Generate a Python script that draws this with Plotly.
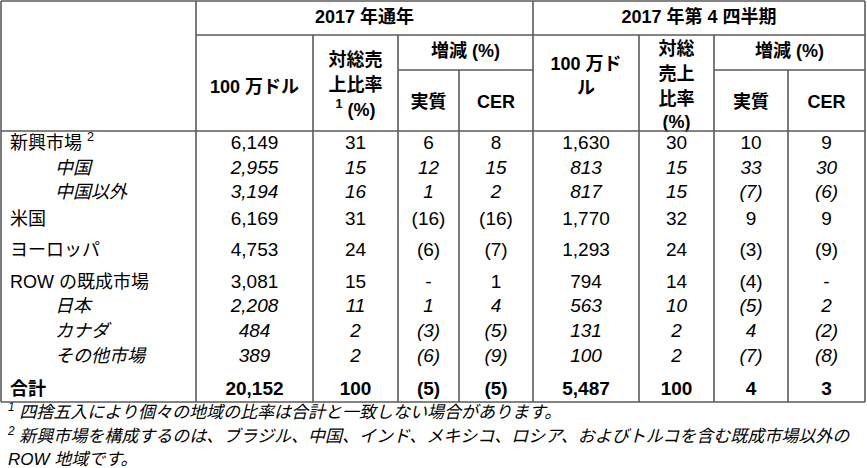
import plotly.graph_objects as go

# row labels and values
regions = ["新興市場 <sup>2</sup>", "中国", "中国以外", "米国", "ヨーロッパ",
           "ROW の既成市場", "日本", "カナダ", "その他市場", "合計"]
row_kind = ["main", "sub", "sub", "main", "main", "main", "sub", "sub", "sub", "total"]

fy_sales = ["6,149", "2,955", "3,194", "6,169", "4,753", "3,081", "2,208", "484", "389", "20,152"]
fy_share = ["31", "15", "16", "31", "24", "15", "11", "2", "2", "100"]
fy_actual = ["6", "12", "1", "(16)", "(6)", "-", "1", "(3)", "(6)", "(5)"]
fy_cer = ["8", "15", "2", "(16)", "(7)", "1", "4", "(5)", "(9)", "(5)"]

q4_sales = ["1,630", "813", "817", "1,770", "1,293", "794", "563", "131", "100", "5,487"]
q4_share = ["30", "15", "15", "32", "24", "14", "10", "2", "2", "100"]
q4_actual = ["10", "33", "(7)", "9", "(3)", "(4)", "(5)", "4", "(7)", "4"]
q4_cer = ["9", "30", "(6)", "9", "(9)", "-", "2", "(2)", "(8)", "3"]

footnotes = ["<sup>1</sup> 四捨五入により個々の地域の比率は合計と一致しない場合があります。",
             "<sup>2</sup> 新興市場を構成するのは、ブラジル、中国、インド、メキシコ、ロシア、およびトルコを含む既成市場以外の",
             "ROW 地域です。"]

# layout of the grid (pixels)
W, H = 867, 468
col_edges = [1, 196, 313, 398, 459, 533, 639, 714, 788, 865]
row_y = [144, 169, 193, 220, 251, 283, 307, 332, 357, 390]
foot_y = [414, 438, 461]
top, h1, h2, h3, bottom = 1, 35, 70, 131, 402

LINE = '#5a5a5a'
FONT = "Arial, 'Liberation Sans', 'Noto Sans CJK JP', sans-serif"

xs, ys, texts, pos, sizes = [], [], [], [], []


def put(x, y, t, p='middle center', s=18):
    xs.append(x)
    ys.append(y)
    texts.append(t)
    pos.append(p)
    sizes.append(s)


def centre(i):
    return (col_edges[i] + col_edges[i + 1]) / 2


# header
put((col_edges[1] + col_edges[5]) / 2, 18, "<b>2017 年通年</b>")
put((col_edges[5] + col_edges[9]) / 2, 18, "<b>2017 年第 4 四半期</b>")
put(centre(1), 88, "<b>100 万ドル</b>")
for y, t in zip([61, 86, 111], ["対総売", "上比率", "<sup>1</sup> (%)"]):
    put(centre(2), y, "<b>" + t + "</b>")
put((col_edges[3] + col_edges[5]) / 2, 52, "<b>増減 (%)</b>")
put(centre(3), 103, "<b>実質</b>")
put(centre(4), 103, "<b>CER</b>")
for y, t in zip([65, 89], ["100 万ド", "ル"]):
    put(centre(5), y, "<b>" + t + "</b>")
for y, t in zip([50, 75, 100, 123], ["対総", "売上", "比率", "(%)"]):
    put(centre(6), y, "<b>" + t + "</b>")
put((col_edges[7] + col_edges[9]) / 2, 52, "<b>増減 (%)</b>")
put(centre(7), 103, "<b>実質</b>")
put(centre(8), 103, "<b>CER</b>")

# body
columns = [fy_sales, fy_share, fy_actual, fy_cer, q4_sales, q4_share, q4_actual, q4_cer]
for r, (label, kind) in enumerate(zip(regions, row_kind)):
    y = row_y[r]
    if kind == 'sub':
        put(55, y, "<i>" + label + "</i>", 'middle right')
    elif kind == 'total':
        put(10, y, "<b>" + label + "</b>", 'middle right')
    else:
        put(10, y, label, 'middle right')
    for c, col in enumerate(columns):
        v = col[r]
        if kind == 'sub' and v != '-':
            v = "<i>" + v + "</i>"
        elif kind == 'total':
            v = "<b>" + v + "</b>"
        put(centre(c + 1), y, v, s=19)

fig = go.Figure(go.Scatter(x=xs, y=ys, text=texts, mode='text', textposition=pos,
                           textfont={"family": FONT, "size": sizes, "color": "black"},
                           hoverinfo='none', showlegend=False))

fig.add_trace(go.Scatter(x=[8, 8, 8], y=foot_y, text=["<i>" + t + "</i>" for t in footnotes],
                         mode='text', textposition='middle right',
                         textfont={"family": FONT, "size": 17, "color": "black"},
                         hoverinfo='none', showlegend=False))

# grid lines
lines = [
    (col_edges[0], top, col_edges[9], top),
    (col_edges[1], h1, col_edges[9], h1),
    (col_edges[3], h2, col_edges[5], h2),
    (col_edges[7], h2, col_edges[9], h2),
    (col_edges[0], h3, col_edges[9], h3),
    (col_edges[0], bottom, col_edges[9], bottom),
    (col_edges[0], top, col_edges[0], bottom),
    (col_edges[1], top, col_edges[1], bottom),
    (col_edges[5], top, col_edges[5], bottom),
    (col_edges[9], top, col_edges[9], bottom),
    (col_edges[2], h1, col_edges[2], bottom),
    (col_edges[3], h1, col_edges[3], bottom),
    (col_edges[4], h2, col_edges[4], bottom),
    (col_edges[6], h1, col_edges[6], bottom),
    (col_edges[7], h1, col_edges[7], bottom),
    (col_edges[8], h2, col_edges[8], bottom),
]
for x0, y0, x1, y1 in lines:
    fig.add_shape(type='line', x0=x0, y0=y0, x1=x1, y1=y1, xref='x', yref='y',
                  line={"color": LINE, "width": 1.6})

fig.update_layout(width=W, height=H, margin={"l": 0, "r": 0, "t": 0, "b": 0},
                  paper_bgcolor='white', plot_bgcolor='white', showlegend=False)
fig.update_xaxes(range=[0, W], visible=False, showgrid=False, zeroline=False, fixedrange=True)
fig.update_yaxes(range=[H, 0], visible=False, showgrid=False, zeroline=False, fixedrange=True)

# page body has a default 8px margin; drop it so the table sits at the corner
fig.write_html("out.html", config={"displayModeBar": False},
               post_script="document.body.style.margin='0';")
